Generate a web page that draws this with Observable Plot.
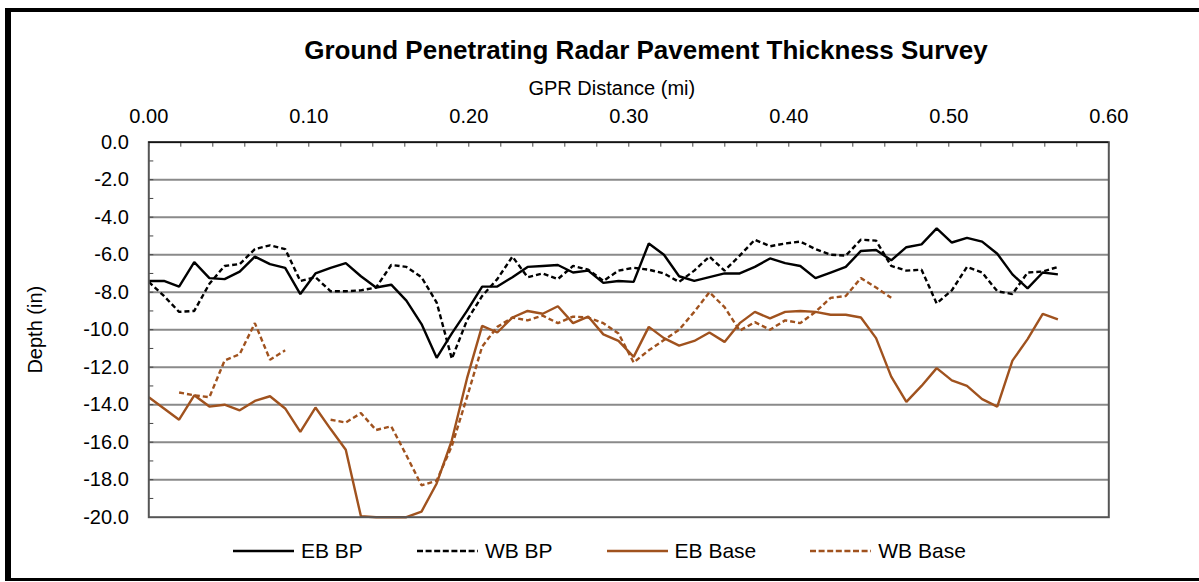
<!DOCTYPE html>
<html>
<head>
<meta charset="utf-8">
<script src="https://cdn.jsdelivr.net/npm/d3@7"></script>
<script src="https://cdn.jsdelivr.net/npm/@observablehq/plot@0.6"></script>
<style>
  html, body { margin: 0; padding: 0; background: #fff; }
  body { font-family: "Liberation Sans", Arial, Helvetica, sans-serif; color: #000; }
  #wrap { position: relative; width: 1199px; height: 582px; overflow: hidden; background: #fff; }
  #frame { position: absolute; left: 5px; top: 8px; width: 1220px; height: 566px;
           border-left: 6px solid #000; border-top: 4px solid #000; border-bottom: 3px solid #000; }
  #title { position: absolute; left: 0; width: 1292px; top: 36px; text-align: center;
           font-weight: bold; font-size: 26px; line-height: 28px; white-space: nowrap; }
  #chart { position: absolute; left: 0; top: 70px; }
  #legend { position: absolute; left: 233px; top: 539px; display: flex; gap: 54px;
            align-items: center; font-size: 21px; line-height: 24px; white-space: nowrap; }
  .item { display: flex; align-items: center; gap: 7px; }
  .item svg { display: block; }
</style>
</head>
<body>
<div id="wrap">
  <div id="frame"></div>
  <div id="title"></div>
  <div id="chart"></div>
  <div id="legend"></div>
</div>
<script>
// ---------------- data ----------------
const chartTitle = "Ground Penetrating Radar Pavement Thickness Survey";
const xAxisTitle = "GPR Distance (mi)";
const yAxisTitle = "Depth (in)";

// survey stations (feet), every 50 ft
const stationFt = [0, 50, 100, 150, 200, 250, 300, 350, 400, 450,
  500, 550, 600, 650, 700, 750, 800, 850, 900, 950,
  1000, 1050, 1100, 1150, 1200, 1250, 1300, 1350, 1400, 1450,
  1500, 1550, 1600, 1650, 1700, 1750, 1800, 1850, 1900, 1950,
  2000, 2050, 2100, 2150, 2200, 2250, 2300, 2350, 2400, 2450,
  2500, 2550, 2600, 2650, 2700, 2750, 2800, 2850, 2900, 2950, 3000];

const ebBP = [-7.4, -7.4, -7.7, -6.4, -7.25, -7.3, -6.9, -6.1, -6.5, -6.7,
  -8.1, -7.0, -6.7, -6.45, -7.15, -7.75, -7.6, -8.45, -9.7, -11.5,
  -10.2, -9.0, -7.7, -7.7, -7.2, -6.65, -6.6, -6.55, -6.95, -6.85,
  -7.5, -7.4, -7.45, -5.4, -6.0, -7.15, -7.4, -7.2, -7.0, -7.0,
  -6.65, -6.2, -6.45, -6.6, -7.25, -6.95, -6.65, -5.8, -5.75, -6.3,
  -5.6, -5.45, -4.6, -5.35, -5.1, -5.3, -5.95, -7.05, -7.8, -6.95, -7.05];

const wbBP = [-7.45, -8.2, -9.05, -9.0, -7.55, -6.6, -6.5, -5.7, -5.5, -5.7,
  -7.4, -7.2, -7.95, -7.95, -7.9, -7.75, -6.55, -6.65, -7.2, -8.55,
  -11.55, -9.5, -8.2, -7.3, -6.1, -7.2, -7.0, -7.3, -6.6, -6.8,
  -7.4, -6.85, -6.7, -6.8, -7.0, -7.45, -6.85, -6.1, -6.85, -6.05,
  -5.2, -5.55, -5.4, -5.3, -5.7, -6.0, -6.05, -5.2, -5.25, -6.6,
  -6.85, -6.8, -8.6, -7.9, -6.65, -6.95, -7.95, -8.1, -6.95, -6.9, -6.65];

const ebBase = [-13.6, -14.2, -14.8, -13.5, -14.1, -14.0, -14.3, -13.8, -13.55, -14.2,
  -15.45, -14.15, -15.3, -16.4, -19.95, -20.0, -20.0, -20.0, -19.7, -18.2,
  -15.9, -12.6, -9.8, -10.15, -9.35, -9.0, -9.15, -8.75, -9.65, -9.3,
  -10.25, -10.6, -11.45, -9.85, -10.45, -10.85, -10.6, -10.15, -10.65, -9.65,
  -9.05, -9.4, -9.05, -9.0, -9.05, -9.2, -9.2, -9.35, -10.45, -12.5,
  -13.85, -13.0, -12.05, -12.7, -13.0, -13.7, -14.1, -11.65, -10.5, -9.15, -9.45];

const wbBase = [null, null, -13.35, -13.5, -13.6, -11.65, -11.3, -9.65, -11.6, -11.1,
  null, null, -14.8, -14.95, -14.45, -15.35, -15.15, -16.7, -18.3, -18.05,
  -16.2, -13.6, -10.9, -9.85, -9.35, -9.5, -9.25, -9.65, -9.3, -9.35,
  -9.65, -10.2, -11.75, -11.1, -10.55, -10.0, -9.05, -8.0, -8.8, -10.05,
  -9.6, -10.0, -9.5, -9.65, -9.05, -8.3, -8.2, -7.25, -7.75, -8.3,
  null, null, null, null, null, null, null, null, null, null, null];

const seriesNames = ["EB BP", "WB BP", "EB Base", "WB Base"];
const seriesValues = [ebBP, wbBP, ebBase, wbBase];

const xTickLabels = [0, 0.1, 0.2, 0.3, 0.4, 0.5, 0.6];
const xMinorTicks = [0, 0.02, 0.04, 0.06, 0.08, 0.1, 0.12, 0.14, 0.16, 0.18, 0.2,
  0.22, 0.24, 0.26, 0.28, 0.3, 0.32, 0.34, 0.36, 0.38, 0.4,
  0.42, 0.44, 0.46, 0.48, 0.5, 0.52, 0.54, 0.56, 0.58, 0.6];
const yTickLabels = [0, -2, -4, -6, -8, -10, -12, -14, -16, -18, -20];
const yGrid = [-2, -4, -6, -8, -10, -12, -14, -16, -18];
const yMinorTicks = [-1, -2, -3, -4, -5, -6, -7, -8, -9, -10, -11, -12, -13, -14, -15, -16, -17, -18, -19];

// ---------------- styles ----------------
const BROWN = "#a0521e";
const styles = {
  "EB BP":   {stroke: "#000", dash: null},
  "WB BP":   {stroke: "#000", dash: "5,3"},
  "EB Base": {stroke: BROWN, dash: null},
  "WB Base": {stroke: BROWN, dash: "5,3"}
};

// ---------------- build ----------------
const rows = seriesNames.map((name, k) =>
  stationFt.map((ft, i) => ({
    name,
    x: ft / 5280,
    y: seriesValues[k][i] == null ? NaN : seriesValues[k][i]
  }))
);

const W = 1199, H = 470;
const mt = 71.7, mb = 23.3, ml = 148.3, mr = 90.7;
const innerW = W - ml - mr, innerH = H - mt - mb;

const lineMarks = seriesNames.map((name, k) =>
  Plot.line(rows[k], {
    x: "x", y: "y",
    stroke: styles[name].stroke,
    strokeWidth: 2.4,
    strokeDasharray: styles[name].dash || undefined,
    strokeLinejoin: "miter",
    strokeLinecap: "butt"
  })
);

const chart = Plot.plot({
  width: W,
  height: H,
  marginTop: mt,
  marginBottom: mb,
  marginLeft: ml,
  marginRight: mr,
  style: {fontFamily: '"Liberation Sans", Arial, sans-serif', fontSize: "20px", background: "transparent", overflow: "visible"},
  x: {domain: [0, 0.6], axis: null},
  y: {domain: [-20, 0], axis: null},
  marks: [
    Plot.gridY(yGrid, {stroke: "#8a8a8a", strokeWidth: 2, strokeOpacity: 1}),
    Plot.ruleX(xMinorTicks, {x: d => d, insetBottom: innerH - 5, stroke: "#444", strokeWidth: 1}),
    Plot.ruleY(yMinorTicks, {y: d => d, insetRight: innerW - 5, stroke: "#444", strokeWidth: 1}),
    ...lineMarks,
    Plot.frame({stroke: "#555", strokeWidth: 2}),
    Plot.ruleY([0], {stroke: "#000", strokeWidth: 1.2}),
    Plot.axisX(xTickLabels, {anchor: "top", tickSize: 0, tickPadding: 19.5, tickFormat: d => d.toFixed(2), label: null, fontSize: 20, fill: "#000"}),
    Plot.axisY(yTickLabels, {anchor: "left", tickSize: 0, tickPadding: 20, tickFormat: d => (d === 0 ? 0 : d).toFixed(1), label: null, fontSize: 20, fill: "#000"}),
    Plot.text([xAxisTitle], {frameAnchor: "top", dx: -17, dy: -53.7, lineAnchor: "middle", textAnchor: "middle", fontSize: 20, fill: "#000"}),
    Plot.text([yAxisTitle], {frameAnchor: "left", dx: -113, rotate: -90, lineAnchor: "middle", textAnchor: "middle", fontSize: 20, fill: "#000"})
  ]
});
document.getElementById("chart").appendChild(chart);
document.getElementById("title").textContent = chartTitle;

// legend
const legend = d3.select("#legend");
seriesNames.forEach(name => {
  const item = legend.append("div").attr("class", "item");
  const sw = item.append("svg").attr("width", 61).attr("height", 10);
  sw.append("line").attr("x1", 0).attr("x2", 61).attr("y1", 5).attr("y2", 5)
    .attr("stroke", styles[name].stroke).attr("stroke-width", 2.6)
    .attr("stroke-dasharray", styles[name].dash ? "6,2.6" : null);
  item.append("span").text(name);
});
</script>
</body>
</html>
